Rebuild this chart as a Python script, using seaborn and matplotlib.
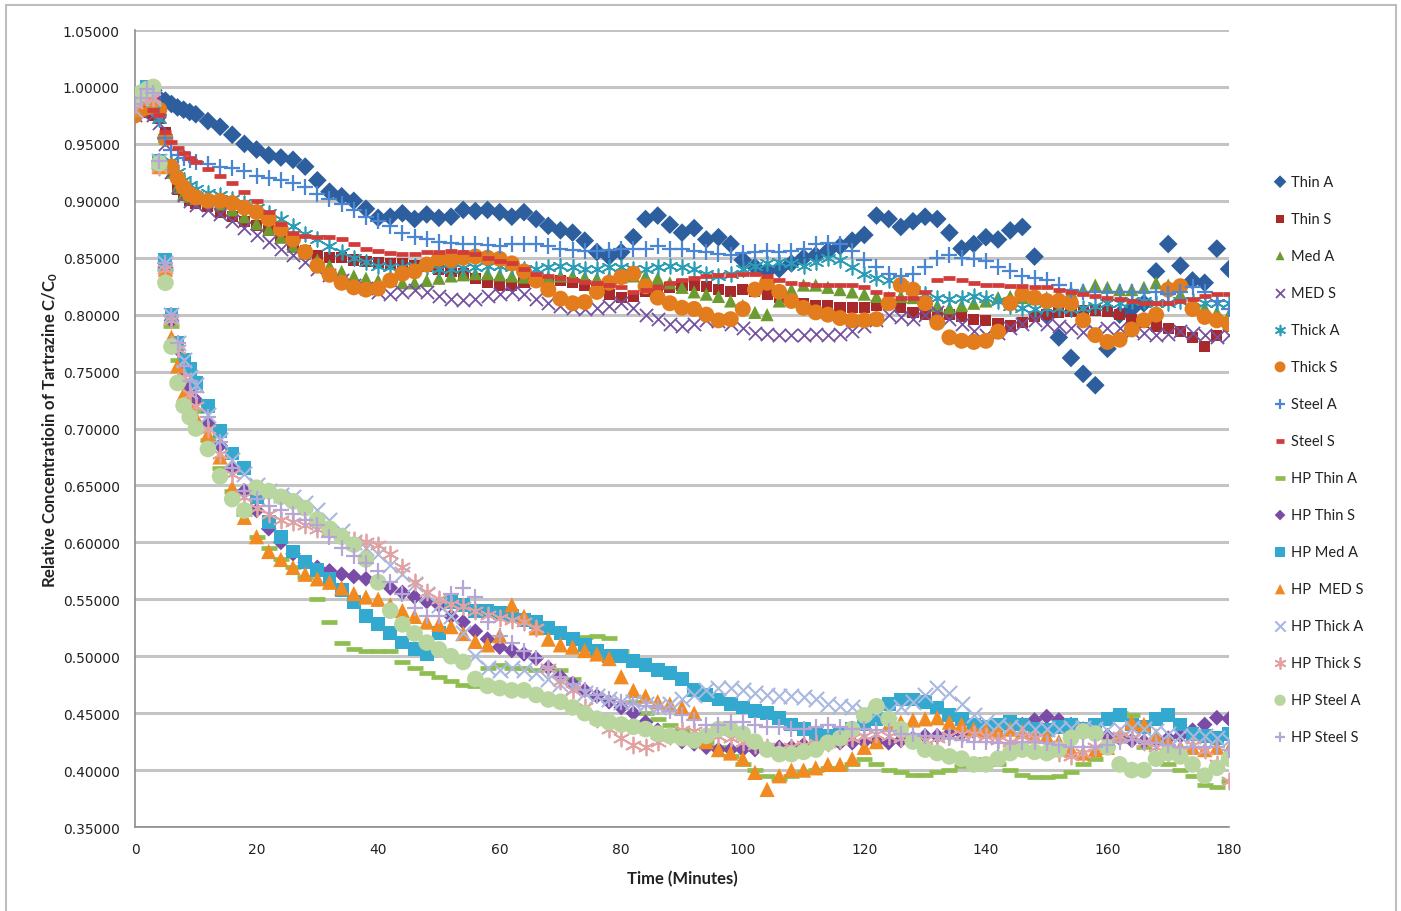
import matplotlib
matplotlib.use("Agg")
import matplotlib.pyplot as plt
import matplotlib.ticker as mticker
from matplotlib.patches import Rectangle
import seaborn as sns

# ---------------- data ----------------
time_min = [0, 1, 2, 3, 4, 5, 6, 7, 8, 9, 10,
            12, 14, 16, 18, 20, 22, 24, 26, 28, 30,
            32, 34, 36, 38, 40, 42, 44, 46, 48, 50,
            52, 54, 56, 58, 60, 62, 64, 66, 68, 70,
            72, 74, 76, 78, 80, 82, 84, 86, 88, 90,
            92, 94, 96, 98, 100, 102, 104, 106, 108, 110,
            112, 114, 116, 118, 120, 122, 124, 126, 128, 130,
            132, 134, 136, 138, 140, 142, 144, 146, 148, 150,
            152, 154, 156, 158, 160, 162, 164, 166, 168, 170,
            172, 174, 176, 178, 180]

thin_a = [.99, .995, .998, .997, .99, .988, .985, .982, .98, .978, .976,
          .97, .965, .958, .95, .945, .94, .938, .936, .93, .918,
          .908, .904, .90, .893, .885, .886, .889, .884, .888, .885,
          .886, .892, .891, .892, .89, .886, .89, .884, .878, .874,
          .872, .865, .855, .851, .855, .868, .884, .887, .879, .872,
          .876, .866, .868, .862, .848, .842, .838, .84, .845, .85,
          .852, .856, .86, .865, .87, .887, .884, .877, .882, .886,
          .884, .872, .858, .862, .868, .866, .874, .877, .851, .80,
          .78, .762, .748, .738, .77, .80, .805, .81, .838, .862,
          .843, .83, .828, .858, .84]
thin_s = [.98, .985, .978, .975, .972, .96, .93, .91, .905, .90, .898,
          .895, .89, .886, .882, .878, .874, .868, .862, .856, .852,
          .85, .85, .848, .847, .846, .845, .845, .843, .842, .84,
          .838, .836, .832, .828, .826, .826, .828, .83, .83, .83,
          .828, .826, .822, .818, .815, .816, .82, .822, .824, .826,
          .826, .825, .822, .82, .822, .82, .818, .815, .812, .81,
          .808, .808, .806, .806, .806, .808, .81, .806, .802, .80,
          .802, .80, .798, .796, .795, .792, .79, .793, .798, .80,
          .802, .803, .804, .804, .803, .80, .796, .793, .79, .788,
          .785, .78, .772, .782, .79]
med_a = [.99, .992, .99, .985, .975, .955, .925, .912, .906, .904, .902,
         .90, .897, .892, .886, .88, .875, .868, .86, .854, .848,
         .843, .838, .834, .832, .83, .83, .828, .828, .83, .832,
         .834, .835, .836, .836, .835, .834, .833, .832, .833, .834,
         .834, .833, .832, .832, .833, .834, .834, .832, .828, .824,
         .82, .818, .816, .812, .808, .802, .80, .812, .822, .826,
         .826, .824, .822, .82, .818, .816, .815, .816, .815, .812,
         .808, .806, .808, .81, .812, .815, .816, .815, .814, .815,
         .818, .82, .822, .826, .824, .822, .822, .824, .828, .826,
         .818, .81, .806, .802, .80]
med_s = [.975, .978, .98, .975, .968, .95, .925, .912, .905, .90, .896,
         .892, .888, .882, .876, .87, .864, .858, .852, .846, .84,
         .835, .83, .826, .823, .82, .818, .82, .822, .82, .816,
         .814, .813, .814, .816, .818, .82, .818, .814, .81, .808,
         .806, .805, .806, .808, .81, .806, .80, .796, .792, .79,
         .792, .795, .794, .792, .788, .784, .783, .782, .782, .782,
         .783, .782, .783, .786, .79, .795, .80, .798, .796, .80,
         .802, .796, .792, .786, .782, .784, .788, .792, .795, .792,
         .79, .788, .785, .786, .788, .788, .786, .784, .782, .783,
         .786, .784, .782, .78, .782]
thick_a = [.985, .99, .992, .985, .972, .955, .935, .925, .918, .914, .91,
           .907, .905, .902, .898, .894, .889, .884, .878, .871, .866,
           .86, .855, .85, .846, .843, .842, .842, .843, .842, .84,
           .84, .841, .842, .843, .843, .842, .84, .84, .842, .843,
           .842, .84, .84, .842, .842, .84, .84, .842, .843, .842,
           .84, .836, .834, .836, .84, .843, .845, .846, .845, .843,
           .846, .85, .848, .842, .836, .832, .83, .826, .822, .818,
           .815, .814, .815, .816, .815, .812, .808, .806, .805, .806,
           .806, .805, .806, .808, .81, .81, .812, .812, .81, .81,
           .812, .812, .81, .81, .81]
thick_s = [.975, .98, .982, .985, .98, .955, .93, .92, .912, .906, .903,
           .90, .90, .898, .894, .89, .884, .875, .866, .855, .843,
           .835, .828, .824, .822, .823, .83, .836, .838, .844, .849,
           .848, .85, .851, .85, .849, .845, .838, .83, .822, .814,
           .81, .811, .82, .828, .833, .836, .825, .815, .81, .806,
           .805, .80, .795, .796, .805, .822, .828, .82, .812, .806,
           .802, .80, .797, .795, .795, .796, .81, .826, .822, .81,
           .793, .78, .777, .776, .777, .785, .81, .818, .815, .812,
           .812, .81, .795, .782, .776, .778, .787, .795, .80, .822,
           .825, .805, .798, .795, .792]
steel_a = [.99, .995, .997, .99, .975, .955, .945, .94, .938, .936, .934,
           .932, .93, .929, .926, .922, .92, .918, .916, .912, .906,
           .902, .897, .892, .886, .882, .878, .872, .868, .866, .864,
           .863, .862, .862, .861, .86, .862, .862, .862, .86, .858,
           .857, .856, .856, .857, .858, .858, .858, .86, .858, .858,
           .856, .855, .853, .852, .854, .855, .856, .855, .856, .858,
           .862, .863, .862, .856, .848, .842, .836, .834, .836, .842,
           .85, .852, .85, .849, .847, .842, .838, .834, .832, .83,
           .826, .822, .82, .82, .82, .82, .82, .82, .82, .818,
           .82, .824, .82, .812, .805]
steel_s = [.985, .99, .985, .98, .975, .96, .952, .946, .942, .938, .934,
           .928, .922, .916, .908, .90, .89, .88, .872, .869, .868,
           .868, .866, .862, .858, .856, .854, .853, .853, .855, .855,
           .856, .855, .853, .85, .847, .845, .84, .836, .834, .832,
           .83, .829, .828, .826, .824, .82, .822, .824, .828, .83,
           .832, .834, .835, .835, .836, .836, .834, .83, .828, .827,
           .826, .826, .826, .826, .824, .82, .818, .815, .815, .82,
           .83, .832, .83, .828, .826, .826, .825, .825, .824, .824,
           .822, .82, .818, .816, .815, .814, .812, .81, .81, .81,
           .812, .814, .816, .818, .818]
hp_thin_a = [.985, .99, .99, .985, .93, .84, .79, .76, .74, .725, .715,
             .69, .665, .645, .625, .605, .595, .585, .578, .57, .55,
             .53, .512, .506, .505, .505, .505, .495, .49, .485, .482,
             .478, .475, .474, .49, .492, .49, .49, .488, .49, .488,
             .48, .517, .518, .516, .505, .46, .45, .445, .44, .435,
             .43, .425, .42, .412, .405, .40, .395, .392, .395, .398,
             .40, .402, .402, .405, .41, .405, .40, .398, .396, .396,
             .398, .40, .404, .408, .41, .405, .40, .396, .394, .394,
             .395, .398, .405, .41, .42, .45, .448, .42, .41, .405,
             .40, .395, .387, .385, .39]
hp_thin_s = [.985, .99, .995, .99, .932, .842, .795, .77, .75, .735, .725,
             .705, .685, .665, .645, .628, .612, .60, .59, .582, .578,
             .575, .572, .57, .568, .565, .56, .556, .552, .548, .545,
             .535, .53, .522, .515, .508, .505, .502, .498, .49, .482,
             .476, .47, .465, .46, .455, .45, .442, .435, .43, .425,
             .423, .42, .418, .418, .418, .418, .418, .42, .42, .422,
             .422, .424, .424, .424, .425, .425, .424, .426, .428, .43,
             .43, .432, .432, .434, .435, .436, .438, .44, .444, .447,
             .444, .44, .436, .432, .43, .428, .426, .425, .426, .428,
             .43, .435, .44, .446, .445]
hp_med_a = [.99, .995, 1.0, .998, .935, .848, .80, .775, .76, .752, .74,
            .72, .698, .678, .665, .64, .618, .605, .592, .583, .576,
            .568, .558, .548, .535, .528, .52, .512, .506, .502, .52,
            .548, .545, .54, .54, .538, .535, .532, .53, .525, .52,
            .515, .51, .505, .50, .50, .496, .492, .488, .485, .48,
            .47, .466, .462, .458, .455, .452, .45, .446, .44, .436,
            .432, .43, .432, .436, .44, .445, .458, .462, .462, .46,
            .455, .448, .445, .44, .438, .44, .442, .44, .436, .435,
            .438, .44, .436, .44, .445, .448, .44, .438, .445, .448,
            .44, .432, .43, .428, .432]
hp_med_s = [.98, .99, .995, .99, .93, .84, .78, .755, .73, .72, .71,
            .695, .675, .648, .622, .605, .592, .585, .578, .572, .568,
            .565, .56, .555, .552, .55, .545, .54, .535, .53, .528,
            .526, .52, .513, .51, .518, .545, .535, .525, .515, .51,
            .508, .505, .502, .498, .482, .47, .465, .46, .458, .455,
            .45, .425, .418, .415, .41, .398, .383, .395, .40, .40,
            .402, .405, .405, .41, .42, .425, .44, .442, .444, .445,
            .446, .442, .44, .436, .435, .435, .436, .434, .43, .43,
            .425, .418, .415, .418, .42, .43, .442, .44, .43, .425,
            .42, .42, .418, .42, .418]
hp_thick_a = [.98, .99, .995, .99, .935, .845, .80, .775, .76, .745, .738,
              .712, .69, .672, .66, .65, .645, .642, .64, .635, .628,
              .62, .61, .60, .595, .59, .58, .572, .563, .555, .545,
              .535, .52, .50, .49, .488, .49, .488, .485, .48, .476,
              .472, .468, .465, .462, .46, .46, .458, .455, .458, .462,
              .466, .47, .472, .472, .47, .468, .466, .465, .465, .464,
              .462, .458, .456, .455, .452, .45, .452, .455, .46, .466,
              .472, .468, .458, .448, .442, .44, .438, .437, .436, .436,
              .436, .437, .437, .436, .435, .436, .437, .436, .434, .432,
              .43, .43, .43, .428, .426]
hp_thick_s = [.985, .99, .995, .99, .93, .84, .795, .77, .745, .73, .72,
              .70, .678, .66, .64, .63, .625, .62, .618, .615, .612,
              .61, .606, .602, .60, .598, .59, .578, .565, .556, .55,
              .546, .544, .54, .536, .534, .532, .53, .525, .49, .478,
              .47, .455, .445, .436, .428, .422, .42, .425, .43, .435,
              .434, .432, .43, .428, .425, .422, .42, .418, .42, .422,
              .424, .424, .426, .428, .43, .432, .43, .428, .426, .426,
              .428, .43, .432, .432, .43, .426, .425, .43, .428, .422,
              .415, .412, .415, .42, .425, .43, .428, .425, .42, .415,
              .418, .422, .418, .405, .39]
hp_steel_a = [.99, .995, .998, 1.0, .933, .828, .772, .74, .72, .71, .70,
              .682, .658, .638, .628, .648, .645, .64, .636, .63, .62,
              .612, .605, .598, .585, .565, .54, .528, .52, .512, .506,
              .50, .495, .48, .474, .472, .47, .47, .466, .462, .46,
              .455, .45, .445, .442, .44, .438, .436, .432, .43, .428,
              .426, .43, .436, .436, .432, .425, .418, .414, .414, .416,
              .418, .424, .428, .436, .448, .456, .445, .436, .425, .418,
              .415, .412, .41, .405, .405, .41, .415, .418, .416, .415,
              .418, .428, .434, .432, .42, .405, .40, .40, .41, .415,
              .412, .405, .395, .402, .41]
hp_steel_s = [.985, .99, .998, .995, .935, .845, .80, .775, .755, .742, .732,
              .71, .688, .665, .645, .638, .632, .628, .625, .62, .615,
              .605, .595, .588, .582, .575, .565, .555, .542, .535, .535,
              .555, .56, .552, .53, .518, .512, .505, .498, .49, .482,
              .476, .47, .466, .462, .46, .458, .456, .455, .452, .448,
              .444, .44, .44, .442, .442, .44, .438, .438, .436, .436,
              .438, .44, .438, .436, .436, .435, .434, .432, .432, .43,
              .43, .428, .426, .425, .425, .424, .424, .425, .425, .424,
              .422, .42, .42, .42, .422, .425, .426, .425, .424, .422,
              .42, .42, .42, .42, .418]

series_names = ["Thin A", "Thin S", "Med A", "MED S", "Thick A", "Thick S",
                "Steel A", "Steel S", "HP Thin A", "HP Thin S", "HP Med A",
                "HP  MED S", "HP Thick A", "HP Thick S", "HP Steel A", "HP Steel S"]
series_values = [thin_a, thin_s, med_a, med_s, thick_a, thick_s, steel_a, steel_s,
                 hp_thin_a, hp_thin_s, hp_med_a, hp_med_s, hp_thick_a, hp_thick_s,
                 hp_steel_a, hp_steel_s]

# ---------------- styles ----------------
ASTER = (6, 2, 0)
styles = [
    dict(marker="D", size=9.5, color="#2D5E9E"),
    dict(marker="s", size=8, color="#A7292B"),
    dict(marker="^", size=9.5, color="#6E9B30"),
    dict(marker="x", size=9.5, color="#7552A0", lw=1.3),
    dict(marker=ASTER, size=10.5, color="#2B9DB6", lw=1.2),
    dict(marker="o", size=11.5, color="#E27C1C"),
    dict(marker="+", size=11.5, color="#4B86D2", lw=1.6),
    dict(marker="_", size=8.5, color="#D13C3A", lw=3.4),
    dict(marker="_", size=11.5, color="#8EBE50", lw=3.4),
    dict(marker="D", size=8, color="#7A4CA8"),
    dict(marker="s", size=10, color="#33A9CF"),
    dict(marker="^", size=11, color="#F28A22"),
    dict(marker="x", size=11, color="#A8B8DE", lw=1.5),
    dict(marker=ASTER, size=11.5, color="#E2A2A2", lw=1.3),
    dict(marker="o", size=12, color="#B9D69F"),
    dict(marker="+", size=11.5, color="#B5A6D6", lw=1.6),
]

sns.set_style("white")
plt.rcParams["font.family"] = ["DejaVu Sans"]
plt.rcParams["mathtext.default"] = "regular"

fig = plt.figure(figsize=(14.01, 9.12), dpi=100)
fig.patch.set_facecolor("white")
ax = fig.add_axes([135 / 1401, 1 - 828 / 912, 1094 / 1401, 797 / 912])

for name, vals, st in zip(series_names, series_values, styles):
    kw = dict(x=time_min, y=vals, marker=st["marker"], s=st["size"] ** 2,
              color=st["color"], ax=ax, label=name, zorder=3)
    mk = matplotlib.markers.MarkerStyle(st["marker"])
    if mk.is_filled():
        kw["edgecolor"] = "none"
    else:
        kw["linewidth"] = st.get("lw", 1.2)
    sns.scatterplot(**kw)

ax.set_xlim(0, 180)
ax.set_ylim(0.35, 1.05)
ax.set_xticks(range(0, 181, 20))
ax.set_yticks([0.35 + 0.05 * i for i in range(15)])
ax.yaxis.set_major_formatter(mticker.FormatStrFormatter("%.5f"))
ax.set_axisbelow(True)
ax.yaxis.grid(True, color="#C4C4C4", linewidth=2.2)
ax.xaxis.grid(False)
for side in ["top", "right"]:
    ax.spines[side].set_visible(False)
for side in ["left", "bottom"]:
    ax.spines[side].set_color("#8C8C8C")
    ax.spines[side].set_linewidth(1.2)
ax.tick_params(axis="both", direction="out", length=5, width=1, color="#8C8C8C",
               labelsize=10, labelcolor="#222222", pad=6)

ax.set_xlabel("Time (Minutes)", family=["Lato", "DejaVu Sans"], fontweight="bold",
              fontsize=12, labelpad=10, color="#222222")
ax.set_ylabel("Relative Concentratioin of Tartrazine C/C$_0$", family=["Lato", "DejaVu Sans"],
              fontweight="bold", fontsize=12, labelpad=2, color="#222222")

leg = ax.legend(loc="upper left", bbox_to_anchor=(1.036, 0.826), frameon=False,
                borderaxespad=0, labelspacing=1.58, handlelength=0.8, handletextpad=0.35,
                markerscale=0.68, prop={"family": ["Lato", "DejaVu Sans"], "size": 10.5})
for t in leg.get_texts():
    t.set_color("#222222")

fig.patches.append(Rectangle((6 / 1401, -0.02), 1390 / 1401, 1.02 - 6 / 912,
                             transform=fig.transFigure, fill=False,
                             edgecolor="#BDBDBD", linewidth=1.5))

fig.savefig("out.png", dpi=100, facecolor="white")
